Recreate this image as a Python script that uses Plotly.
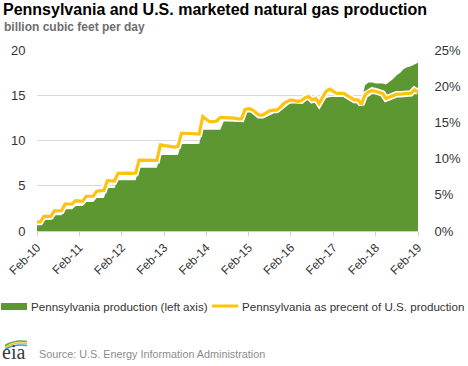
import pandas as pd
import plotly.graph_objects as go

# ---------------- data ----------------
months = pd.date_range("2010-02-01", periods=109, freq="MS")

pa_production = [
    0.8, 0.8,
    1.25, 1.25, 1.25,
    1.75, 1.75, 1.75,
    2.4, 2.4, 2.4,
    2.75, 2.75, 2.75,
    3.2, 3.2, 3.2,
    3.65, 3.65, 3.65,
    4.75, 4.75, 4.75,
    5.6, 5.6, 5.6, 5.6, 5.6, 5.6,
    7.0, 7.0, 7.0, 7.0, 7.0, 7.0,
    8.4, 8.4, 8.4, 8.4, 8.4, 8.4,
    9.6, 9.6, 9.6, 9.6, 9.6, 9.6,
    11.2, 11.2, 11.2, 11.2, 11.2, 11.2,
    12.1, 12.1, 12.1, 12.1, 12.1, 12.1,
    13.2, 13.2, 13.2, 13.0, 12.7, 12.8,
    13.2, 13.2, 13.2, 13.2,
    13.6, 14.0, 14.3, 14.4,
    14.5, 14.3, 14.5, 14.4, 14.5, 14.4, 14.1, 13.7,
    14.3, 14.7, 14.8, 14.8, 14.8, 14.8, 14.8, 14.7, 14.6, 14.5, 14.4, 14.3,
    16.1, 16.4, 16.4, 16.3, 16.3, 16.3, 16.2, 16.5, 16.8, 17.2, 17.5, 17.9,
    18.1, 18.2, 18.4, 18.6,
]

pa_share_pct = [
    1.24, 1.24,
    2.03, 2.03, 2.03,
    2.8, 2.8, 2.8,
    3.73, 3.73, 3.73,
    4.2, 4.2, 4.1,
    4.8, 4.8, 4.8,
    5.5, 5.6, 5.6,
    6.95, 6.95, 6.9,
    7.95, 8.0, 8.0, 8.0, 7.95, 8.0,
    9.8, 9.8, 9.75, 9.7, 9.7, 9.75,
    11.9, 11.8, 11.7, 11.6, 11.6, 11.7,
    13.5, 13.5, 13.45, 13.4, 13.4, 13.4,
    15.8, 15.4, 15.1, 15.1, 15.2, 15.7,
    15.7, 15.7, 15.6, 15.6, 15.5, 15.5,
    16.8, 16.9, 16.8, 16.4, 16.0, 16.0, 16.3, 16.6, 16.7, 16.7,
    17.1, 17.6, 17.9, 18.1, 18.0, 17.9, 18.0, 18.4, 18.6, 18.1,
    18.3, 17.6, 18.5, 19.3, 19.6, 19.3, 19.0, 19.0, 19.0, 18.7,
    18.4, 18.1, 18.1, 17.5, 18.8, 19.2, 19.4, 19.3, 19.2, 19.0,
    18.3, 18.5, 18.8, 18.9, 18.9, 19.0, 19.0, 19.0, 19.5, 19.2,
]

tick_dates = pd.date_range("2010-02-01", periods=10, freq="12MS")
tick_labels = ["Feb-10", "Feb-11", "Feb-12", "Feb-13", "Feb-14",
               "Feb-15", "Feb-16", "Feb-17", "Feb-18", "Feb-19"]
left_ticks = [0, 5, 10, 15, 20]
right_ticks = [0, 5, 10, 15, 20, 25]
right_tick_labels = ["0%", "5%", "10%", "15%", "20%", "25%"]

title_text = "Pennsylvania and U.S. marketed natural gas production"
subtitle_text = "billion cubic feet per day"
legend_labels = ["Pennsylvania production (left axis)",
                 "Pennsylvania as precent of U.S. production"]
source_text = "Source: U.S. Energy Information Administration"

assert len(pa_production) == len(months) == len(pa_share_pct)

# ---------------- style ----------------
GREEN = "#5D9732"
YELLOW = "#FFC20E"
FONT = "Liberation Sans, Arial, sans-serif"
W, H = 468, 366
L, R, T, B = 37, 50, 50, 135
PW, PH = W - L - R, H - T - B


def px_x(px):
    return (px - L) / PW


def px_y(py):
    return (H - B - py) / PH


fig = go.Figure()

fig.add_trace(go.Scatter(
    x=months, y=pa_production, mode="lines", fill="tozeroy",
    line=dict(width=0, color=GREEN), fillcolor=GREEN,
    name=legend_labels[0], showlegend=False, hoverinfo="skip"))

# white halo under the yellow line
fig.add_trace(go.Scatter(
    x=months, y=pa_share_pct, mode="lines", yaxis="y2",
    line=dict(width=6.5, color="white"), showlegend=False, hoverinfo="skip"))
fig.add_trace(go.Scatter(
    x=months, y=pa_share_pct, mode="lines", yaxis="y2",
    line=dict(width=3.2, color=YELLOW), name=legend_labels[1],
    showlegend=False))

fig.update_layout(
    width=W, height=H,
    margin=dict(l=L, r=R, t=T, b=B, pad=0, autoexpand=False),
    paper_bgcolor="white", plot_bgcolor="white",
    font=dict(family=FONT, size=12, color="#333333"),
    xaxis=dict(
        range=[months[0], months[-1]], automargin=False,
        tickmode="array", tickvals=tick_dates, ticktext=tick_labels,
        tickangle=-45, ticks="outside", ticklen=4, tickcolor="#d0d0d0",
        showline=True, linecolor="#d0d0d0", linewidth=1,
        showgrid=False, zeroline=False,
        tickfont=dict(size=12, color="#333333"),
    ),
    yaxis=dict(
        range=[0, 20], tickmode="array", tickvals=left_ticks,
        automargin=False,
        showgrid=True, gridcolor="#d9d9d9", gridwidth=1,
        zeroline=False, showline=False,
        ticks="outside", ticklen=8, tickcolor="rgba(0,0,0,0)",
        tickfont=dict(size=13, color="#333333"),
    ),
    yaxis2=dict(
        range=[0, 25], overlaying="y", side="right", automargin=False,
        tickmode="array", tickvals=right_ticks, ticktext=right_tick_labels,
        showgrid=False, zeroline=False, showline=False,
        ticks="outside", ticklen=13, tickcolor="rgba(0,0,0,0)",
        tickfont=dict(size=13, color="#333333"),
    ),
)

annotations = [
    dict(text="<b>" + title_text + "</b>", x=px_x(1), y=px_y(10),
         font=dict(size=16, color="#000000")),
    dict(text="<b>" + subtitle_text + "</b>", x=px_x(2), y=px_y(27),
         font=dict(size=12, color="#6e6e6e")),
    dict(text=legend_labels[0], x=px_x(29), y=px_y(306),
         font=dict(size=11.6, color="#333333")),
    dict(text=legend_labels[1], x=px_x(240), y=px_y(306),
         font=dict(size=11.6, color="#333333")),
    dict(text=source_text, x=px_x(37), y=px_y(354),
         font=dict(size=10.8, color="#8c8c8c")),
    dict(text="eia", x=px_x(0), y=px_y(352),
         font=dict(size=20, color="#3a3a3a",
                   family="Liberation Serif, DejaVu Serif, serif")),
]
for a in annotations:
    a.update(xref="paper", yref="paper", xanchor="left", yanchor="middle",
             showarrow=False)
fig.update_layout(annotations=annotations)

shapes = [
    # legend symbols
    dict(type="rect", x0=px_x(1), x1=px_x(27), y0=px_y(303), y1=px_y(310),
         fillcolor=GREEN, line=dict(width=0)),
    dict(type="line", x0=px_x(212), x1=px_x(238), y0=px_y(306), y1=px_y(306),
         line=dict(color=YELLOW, width=3)),
]
# eia logo arcs
arc_specs = [("#2e9fd8", 344.5), ("#f2c21b", 342.5), ("#6aaa3a", 340.5)]
for col, yy in arc_specs:
    x0, x1, x2 = px_x(5), px_x(15), px_x(27)
    y0, y1, y2 = px_y(yy + 5), px_y(yy - 1), px_y(yy + 1)
    shapes.append(dict(
        type="path", xref="paper", yref="paper",
        path=f"M {x0},{y0} Q {x1},{y1} {x2},{y2}",
        line=dict(color=col, width=1.6)))
for s in shapes:
    s.setdefault("xref", "paper")
    s.setdefault("yref", "paper")
fig.update_layout(shapes=shapes)

fig.write_html(
    "out.html",
    config={"displayModeBar": False},
    post_script="document.body.style.margin='0';"
                "document.documentElement.style.overflow='hidden';",
)
